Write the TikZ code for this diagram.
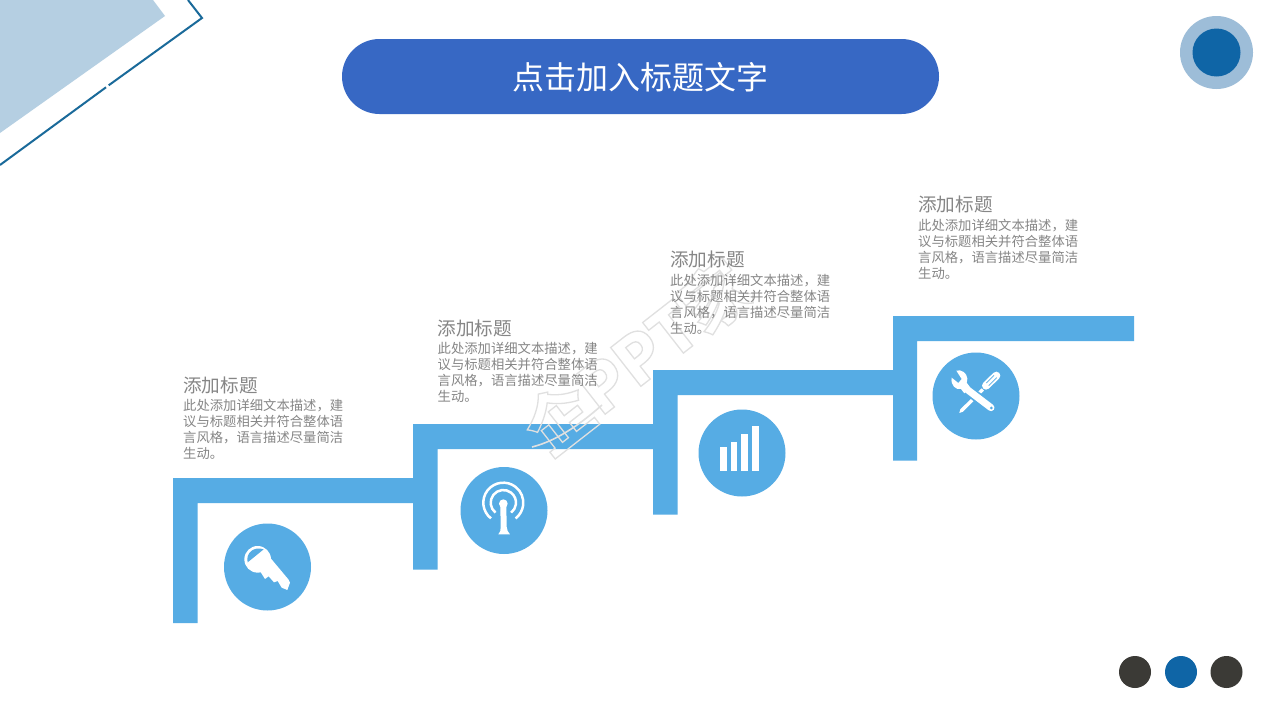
\documentclass[tikz,border=0pt]{standalone}
\usepackage{fontspec}
\setmainfont{Noto Sans CJK SC}
\definecolor{stair}{HTML}{56ACE4}
\definecolor{pill}{HTML}{3768C4}
\definecolor{navy}{HTML}{0F65A6}
\definecolor{ringc}{HTML}{9DBDD8}
\definecolor{pale}{HTML}{B5CFE2}
\definecolor{edgeb}{HTML}{1A6A9A}
\definecolor{dark}{HTML}{3B3A36}
\definecolor{txt}{HTML}{868686}
\definecolor{wmark}{HTML}{E0E0E0}
\tikzset{
  stairshape/.style={fill=stair,draw=none},
  iconcircle/.style={circle,fill=stair,draw=none,minimum size=87pt,inner sep=0pt},
  dotc/.style={circle,draw=none,minimum size=32pt,inner sep=0pt},
  headtext/.style={anchor=west,inner sep=0pt,text=txt,font=\fontsize{18.6}{22}\selectfont},
  bodytext/.style={anchor=north west,inner sep=0pt,align=left,text=txt,font=\fontsize{13.33}{16}\selectfont},
  icon/.style={x=0.3333pt,y=-0.3333pt},
}
\newcommand{\bodylines}{此处添加详细文本描述，建\\议与标题相关并符合整体语\\言风格，语言描述尽量简洁\\生动。}
\begin{document}
\begin{tikzpicture}[x=1pt,y=-1pt]
\useasboundingbox (0,0) rectangle (1280,720);
\fill[white] (0,0) rectangle (1280,720);
% top-left decoration
\fill[pale] (0,0) -- (153,0) -- (165,16) -- (0,133) -- cycle;
\draw[edgeb,line width=2pt,line join=miter] (188,0) -- (202,18) -- (108.7,85.3);
\draw[edgeb,line width=2pt] (106,87.3) -- (0,165);
% title
\node[fill=pill,rounded corners=37.5pt,minimum width=597pt,minimum height=75pt,inner sep=0pt] (title) at (640.5,76.5) {};
\node[inner sep=0pt,text=white,font=\fontsize{32}{38}\selectfont] (titletext) at (640.5,77.5) {点击加入标题文字};
% corner circle
\node[circle,fill=ringc,minimum size=73pt,inner sep=0pt] (ring) at (1216.5,52.5) {};
\node[circle,fill=navy,minimum size=48pt,inner sep=0pt] (core) at (1216.5,52.5) {};
% stairs
\fill[stairshape] (173,623) -- (173,478) -- (413,478) -- (413,424) -- (653,424) -- (653,370) -- (893,370) -- (893,316) -- (1134,316) -- (1134,341) -- (917,341) -- (917,460.5) -- (893,460.5) -- (893,395) -- (677.5,395) -- (677.5,514.5) -- (653,514.5) -- (653,449) -- (437.5,449) -- (437.5,569.5) -- (413,569.5) -- (413,503) -- (197.5,503) -- (197.5,623) -- cycle;
% watermark, above the stairs
\node[rotate=38,inner sep=0pt,font=\fontsize{66}{68}\selectfont\bfseries] (wm) at (637,357) {\special{pdf:code q 1 Tr 1.3 w 0.88 G}企PPT家\special{pdf:code 0 Tr Q}};
\draw[wmark,line width=1.6pt] (532,447) .. controls (560,440) and (585,420) .. (602,405);
% circles
\node[iconcircle] (c1) at (267.5,567) {};
\node[iconcircle] (c2) at (504,510.5) {};
\node[iconcircle] (c3) at (742,453) {};
\node[iconcircle] (c4) at (976,396) {};
% key
\begin{scope}[shift={(210,510)},icon]
\fill[white] (143,148) circle (40);
\fill[white] (168,128) -- (235,208) -- (240,218) -- (232,240) -- (215,233) -- (203,213) -- (192,217) -- (176,199) -- (165,207) -- (150,183) -- cycle;
\fill[stair] (113,157) .. controls (106,128) and (133,108) .. (161,118) -- cycle;
\end{scope}
% antenna
\begin{scope}[shift={(450,455)},icon]
\draw[white,line width=2.5pt] (123,190.3) arc[start angle=128,end angle=412,radius=60];
\draw[white,line width=2.5pt] (136.6,173) arc[start angle=128,end angle=412,radius=38];
\fill[white] (160,146) circle (13);
\fill[white] (151,150) -- (169,150) -- (170,215) -- (173,228) -- (180,238) -- (145,238) -- (151,228) -- (152,215) -- cycle;
\end{scope}
% bars
\begin{scope}[shift={(690,400)},icon]
\fill[white] (90,142) rectangle (110,212);
\fill[white] (122,125) rectangle (142,212);
\fill[white] (154,103) rectangle (174,212);
\fill[white] (187,78) rectangle (206,212);
\end{scope}
% tools
\begin{scope}[shift={(925,345)},icon]
% screwdriver
\fill[white] (103,204) -- (106,193) -- (170,130) -- (177,137) -- (114,200) -- cycle;
\draw[white,line width=8pt,line cap=round] (183,122) -- (214,92);
\draw[stair,line width=0.8pt] (191,122) -- (215,98);
\draw[stair,line width=0.8pt] (184,114) -- (207,91);
% gap around the wrench
\draw[stair,line width=10.5pt] (122,130) -- (200,190);
% wrench
\draw[white,line width=7pt,line cap=round] (122,130) -- (198,188);
\fill[white] (94,77) .. controls (108,72) and (126,84) .. (127,100) .. controls (127,106) and (126,110) .. (125,113) -- (134,125) -- (118,145) -- (108,132) .. controls (92,136) and (76,120) .. (80,98) -- (100,114) -- (110,102) -- cycle;
\fill[stair] (199,189) circle (4.5);
\end{scope}
% texts
\node[headtext] (h1) at (183,385) {添加标题};
\node[bodytext] (b1) at (183,399.5) {\bodylines};
\node[headtext] (h2) at (437.5,328) {添加标题};
\node[bodytext] (b2) at (437.5,342) {\bodylines};
\node[headtext] (h3) at (670,259.5) {添加标题};
\node[bodytext] (b3) at (670,274) {\bodylines};
\node[headtext] (h4) at (918,204.5) {添加标题};
\node[bodytext] (b4) at (918,219.5) {\bodylines};
% bottom dots
\node[dotc,fill=dark] (d1) at (1135,672) {};
\node[dotc,fill=navy] (d2) at (1181,672) {};
\node[dotc,fill=dark] (d3) at (1226.5,672) {};
\end{tikzpicture}
\end{document}
